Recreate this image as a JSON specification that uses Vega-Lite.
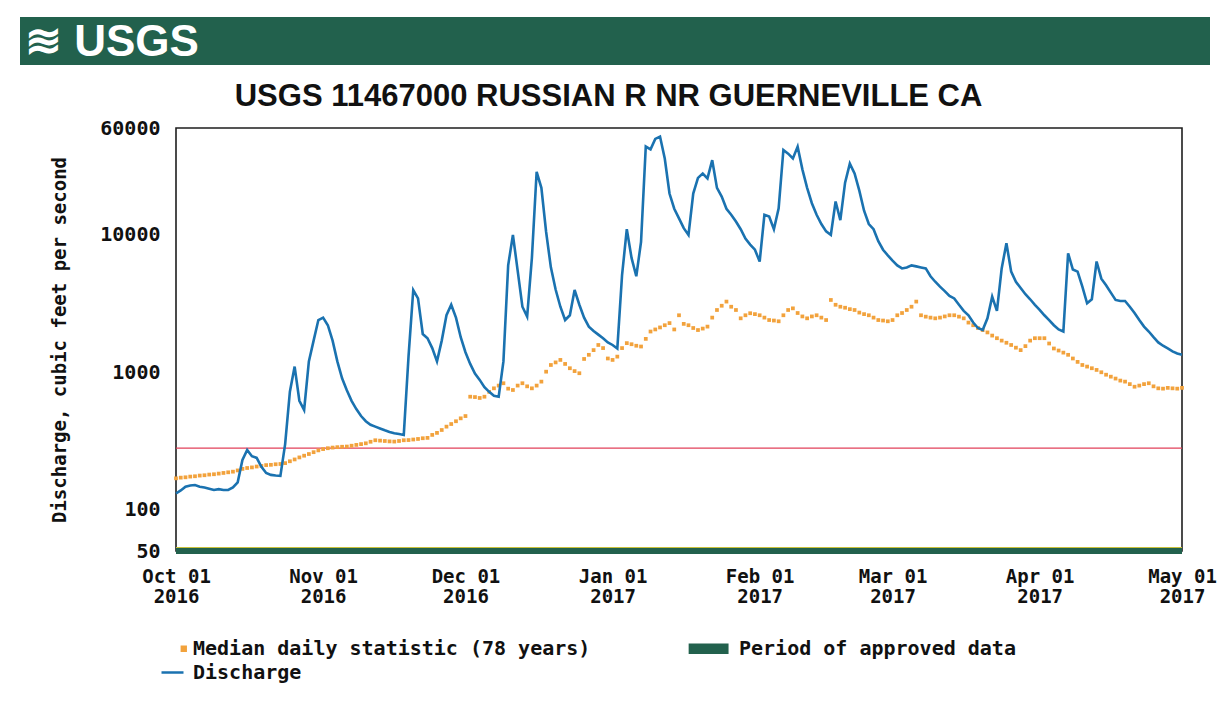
{
  "$schema": "https://vega.github.io/schema/vega-lite/v6.json",
  "background": "white",
  "padding": {"left": 20, "top": 17, "right": 0, "bottom": 8},
  "config": {"view": {"stroke": null}},
  "datasets": {
    "daily": [
      {"d":"2016-10-01","q":131,"m":169},{"d":"2016-10-02","q":138,"m":171},{"d":"2016-10-03","q":147,"m":172},{"d":"2016-10-04","q":150,"m":174},{"d":"2016-10-05","q":151,"m":175},{"d":"2016-10-06","q":147,"m":177},{"d":"2016-10-07","q":145,"m":178},{"d":"2016-10-08","q":142,"m":180},{"d":"2016-10-09","q":139,"m":181},{"d":"2016-10-10","q":141,"m":183},
      {"d":"2016-10-11","q":139,"m":185},{"d":"2016-10-12","q":139,"m":187},{"d":"2016-10-13","q":145,"m":189},{"d":"2016-10-14","q":158,"m":193},{"d":"2016-10-15","q":230,"m":198},{"d":"2016-10-16","q":272,"m":201},{"d":"2016-10-17","q":245,"m":203},{"d":"2016-10-18","q":238,"m":206},{"d":"2016-10-19","q":205,"m":208},{"d":"2016-10-20","q":185,"m":211},
      {"d":"2016-10-21","q":179,"m":212},{"d":"2016-10-22","q":177,"m":214},{"d":"2016-10-23","q":176,"m":215},{"d":"2016-10-24","q":300,"m":218},{"d":"2016-10-25","q":722,"m":225},{"d":"2016-10-26","q":1100,"m":232},{"d":"2016-10-27","q":620,"m":240},{"d":"2016-10-28","q":532,"m":247},{"d":"2016-10-29","q":1200,"m":254},{"d":"2016-10-30","q":1700,"m":262},
      {"d":"2016-10-31","q":2400,"m":270},{"d":"2016-11-01","q":2500,"m":276},{"d":"2016-11-02","q":2200,"m":280},{"d":"2016-11-03","q":1700,"m":283},{"d":"2016-11-04","q":1200,"m":285},{"d":"2016-11-05","q":904,"m":287},{"d":"2016-11-06","q":740,"m":288},{"d":"2016-11-07","q":620,"m":292},{"d":"2016-11-08","q":540,"m":296},{"d":"2016-11-09","q":480,"m":300},
      {"d":"2016-11-10","q":440,"m":304},{"d":"2016-11-11","q":415,"m":312},{"d":"2016-11-12","q":402,"m":320},{"d":"2016-11-13","q":390,"m":318},{"d":"2016-11-14","q":378,"m":316},{"d":"2016-11-15","q":368,"m":314},{"d":"2016-11-16","q":360,"m":313},{"d":"2016-11-17","q":355,"m":316},{"d":"2016-11-18","q":350,"m":320},{"d":"2016-11-19","q":1300,"m":321},
      {"d":"2016-11-20","q":3970,"m":324},{"d":"2016-11-21","q":3450,"m":327},{"d":"2016-11-22","q":1900,"m":331},{"d":"2016-11-23","q":1770,"m":333},{"d":"2016-11-24","q":1500,"m":350},{"d":"2016-11-25","q":1200,"m":362},{"d":"2016-11-26","q":1700,"m":380},{"d":"2016-11-27","q":2600,"m":402},{"d":"2016-11-28","q":3100,"m":420},{"d":"2016-11-29","q":2500,"m":440},
      {"d":"2016-11-30","q":1800,"m":462},{"d":"2016-12-01","q":1400,"m":480},{"d":"2016-12-02","q":1150,"m":664},{"d":"2016-12-03","q":980,"m":660},{"d":"2016-12-04","q":880,"m":650},{"d":"2016-12-05","q":780,"m":664},{"d":"2016-12-06","q":720,"m":720},{"d":"2016-12-07","q":675,"m":764},{"d":"2016-12-08","q":664,"m":800},{"d":"2016-12-09","q":1200,"m":832},
      {"d":"2016-12-10","q":6000,"m":760},{"d":"2016-12-11","q":10000,"m":743},{"d":"2016-12-12","q":5500,"m":800},{"d":"2016-12-13","q":3000,"m":832},{"d":"2016-12-14","q":2540,"m":790},{"d":"2016-12-15","q":6800,"m":764},{"d":"2016-12-16","q":28800,"m":800},{"d":"2016-12-17","q":22000,"m":855},{"d":"2016-12-18","q":10500,"m":1010},{"d":"2016-12-19","q":5800,"m":1130},
      {"d":"2016-12-20","q":4000,"m":1180},{"d":"2016-12-21","q":3000,"m":1230},{"d":"2016-12-22","q":2400,"m":1150},{"d":"2016-12-23","q":2600,"m":1070},{"d":"2016-12-24","q":3970,"m":1020},{"d":"2016-12-25","q":3100,"m":984},{"d":"2016-12-26","q":2500,"m":1250},{"d":"2016-12-27","q":2150,"m":1340},{"d":"2016-12-28","q":2000,"m":1450},{"d":"2016-12-29","q":1880,"m":1580},
      {"d":"2016-12-30","q":1770,"m":1500},{"d":"2016-12-31","q":1650,"m":1260},{"d":"2017-01-01","q":1580,"m":1230},{"d":"2017-01-02","q":1490,"m":1300},{"d":"2017-01-03","q":5100,"m":1500},{"d":"2017-01-04","q":11000,"m":1630},{"d":"2017-01-05","q":6800,"m":1600},{"d":"2017-01-06","q":5000,"m":1560},{"d":"2017-01-07","q":8900,"m":1540},{"d":"2017-01-08","q":44000,"m":1750},
      {"d":"2017-01-09","q":42000,"m":1980},{"d":"2017-01-10","q":50000,"m":2050},{"d":"2017-01-11","q":52000,"m":2120},{"d":"2017-01-12","q":36000,"m":2200},{"d":"2017-01-13","q":20000,"m":2280},{"d":"2017-01-14","q":15500,"m":2050},{"d":"2017-01-15","q":13200,"m":2600},{"d":"2017-01-16","q":11200,"m":2250},{"d":"2017-01-17","q":10000,"m":2200},{"d":"2017-01-18","q":20000,"m":2100},
      {"d":"2017-01-19","q":26000,"m":2030},{"d":"2017-01-20","q":28000,"m":2080},{"d":"2017-01-21","q":25800,"m":2150},{"d":"2017-01-22","q":35000,"m":2500},{"d":"2017-01-23","q":22000,"m":2840},{"d":"2017-01-24","q":19000,"m":3050},{"d":"2017-01-25","q":15500,"m":3270},{"d":"2017-01-26","q":14000,"m":3000},{"d":"2017-01-27","q":12500,"m":2840},{"d":"2017-01-28","q":11000,"m":2470},
      {"d":"2017-01-29","q":9400,"m":2600},{"d":"2017-01-30","q":8500,"m":2690},{"d":"2017-01-31","q":7800,"m":2650},{"d":"2017-02-01","q":6400,"m":2600},{"d":"2017-02-02","q":14000,"m":2500},{"d":"2017-02-03","q":13600,"m":2400},{"d":"2017-02-04","q":11000,"m":2380},{"d":"2017-02-05","q":15600,"m":2350},{"d":"2017-02-06","q":41500,"m":2600},{"d":"2017-02-07","q":39000,"m":2840},
      {"d":"2017-02-08","q":36000,"m":2920},{"d":"2017-02-09","q":43900,"m":2700},{"d":"2017-02-10","q":30000,"m":2550},{"d":"2017-02-11","q":22000,"m":2470},{"d":"2017-02-12","q":17000,"m":2550},{"d":"2017-02-13","q":14000,"m":2600},{"d":"2017-02-14","q":12000,"m":2500},{"d":"2017-02-15","q":10600,"m":2400},{"d":"2017-02-16","q":10000,"m":3360},{"d":"2017-02-17","q":17500,"m":3100},
      {"d":"2017-02-18","q":12800,"m":3000},{"d":"2017-02-19","q":24000,"m":2950},{"d":"2017-02-20","q":33000,"m":2880},{"d":"2017-02-21","q":28000,"m":2840},{"d":"2017-02-22","q":21000,"m":2720},{"d":"2017-02-23","q":15000,"m":2650},{"d":"2017-02-24","q":12000,"m":2600},{"d":"2017-02-25","q":11000,"m":2500},{"d":"2017-02-26","q":9000,"m":2400},{"d":"2017-02-27","q":7800,"m":2380},
      {"d":"2017-02-28","q":7100,"m":2350},{"d":"2017-03-01","q":6500,"m":2400},{"d":"2017-03-02","q":6000,"m":2600},{"d":"2017-03-03","q":5700,"m":2700},{"d":"2017-03-04","q":5800,"m":2840},{"d":"2017-03-05","q":6000,"m":3000},{"d":"2017-03-06","q":5900,"m":3270},{"d":"2017-03-07","q":5800,"m":2600},{"d":"2017-03-08","q":5700,"m":2540},{"d":"2017-03-09","q":5000,"m":2500},
      {"d":"2017-03-10","q":4560,"m":2470},{"d":"2017-03-11","q":4200,"m":2500},{"d":"2017-03-12","q":3900,"m":2550},{"d":"2017-03-13","q":3600,"m":2600},{"d":"2017-03-14","q":3450,"m":2600},{"d":"2017-03-15","q":3100,"m":2540},{"d":"2017-03-16","q":2800,"m":2470},{"d":"2017-03-17","q":2600,"m":2300},{"d":"2017-03-18","q":2300,"m":2200},{"d":"2017-03-19","q":2100,"m":2100},
      {"d":"2017-03-20","q":2030,"m":2030},{"d":"2017-03-21","q":2470,"m":1950},{"d":"2017-03-22","q":3550,"m":1850},{"d":"2017-03-23","q":2800,"m":1770},{"d":"2017-03-24","q":5700,"m":1700},{"d":"2017-03-25","q":8700,"m":1640},{"d":"2017-03-26","q":5400,"m":1580},{"d":"2017-03-27","q":4560,"m":1510},{"d":"2017-03-28","q":4100,"m":1450},{"d":"2017-03-29","q":3700,"m":1550},
      {"d":"2017-03-30","q":3400,"m":1700},{"d":"2017-03-31","q":3100,"m":1770},{"d":"2017-04-01","q":2850,"m":1770},{"d":"2017-04-02","q":2600,"m":1770},{"d":"2017-04-03","q":2400,"m":1620},{"d":"2017-04-04","q":2200,"m":1490},{"d":"2017-04-05","q":2050,"m":1440},{"d":"2017-04-06","q":1980,"m":1390},{"d":"2017-04-07","q":7350,"m":1340},{"d":"2017-04-08","q":5600,"m":1260},
      {"d":"2017-04-09","q":5400,"m":1190},{"d":"2017-04-10","q":4200,"m":1130},{"d":"2017-04-11","q":3180,"m":1100},{"d":"2017-04-12","q":3400,"m":1070},{"d":"2017-04-13","q":6400,"m":1040},{"d":"2017-04-14","q":4800,"m":1000},{"d":"2017-04-15","q":4300,"m":960},{"d":"2017-04-16","q":3800,"m":929},{"d":"2017-04-17","q":3360,"m":900},{"d":"2017-04-18","q":3300,"m":870},
      {"d":"2017-04-19","q":3300,"m":855},{"d":"2017-04-20","q":3000,"m":820},{"d":"2017-04-21","q":2700,"m":785},{"d":"2017-04-22","q":2400,"m":800},{"d":"2017-04-23","q":2150,"m":820},{"d":"2017-04-24","q":1980,"m":832},{"d":"2017-04-25","q":1800,"m":790},{"d":"2017-04-26","q":1650,"m":764},{"d":"2017-04-27","q":1560,"m":760},{"d":"2017-04-28","q":1490,"m":770},
      {"d":"2017-04-29","q":1420,"m":764},{"d":"2017-04-30","q":1370,"m":760},{"d":"2017-05-01","q":1340,"m":770}
    ],
    "period": [{"d":"2016-10-01","d2":"2017-05-01","q":50}],
    "reference": [{"d":"2016-10-01","d2":"2017-05-01","q":280}],
    "banner": [{"label": "≋ USGS"}],
    "none": []
  },
  "vconcat": [
    {
      "width": 1190,
      "height": 48,
      "view": {"fill": "#22614d", "stroke": null},
      "data": {"name": "banner"},
      "mark": {"type": "text", "align": "left", "baseline": "middle", "dx": -590, "dy": 2, "font": "Liberation Sans", "fontSize": 44, "fontWeight": "bold", "color": "white"},
      "encoding": {"text": {"field": "label", "type": "nominal"}}
    },
    {
      "hconcat": [
        {
          "width": 1,
          "height": 1,
          "data": {"name": "none"},
          "mark": {"type": "text"},
          "encoding": {"text": {"field": "label", "type": "nominal"}}
        },
        {
          "width": 1006,
          "height": 423,
          "view": {"stroke": "#1e1e1e", "strokeWidth": 1.6},
          "title": {"text": "USGS 11467000 RUSSIAN R NR GUERNEVILLE CA", "font": "Liberation Sans", "fontSize": 31, "fontWeight": "bold", "color": "#111111", "anchor": "middle", "frame": "bounds", "offset": 5, "dx": -25},
          "data": {"name": "daily"},
          "encoding": {
            "x": {
              "field": "d", "type": "temporal",
              "scale": {"type": "utc", "domain": [{"year": 2016, "month": 10, "date": 1, "utc": true}, {"year": 2017, "month": 5, "date": 1, "utc": true}]},
              "axis": {
                "title": null,
                "values": [{"year": 2016, "month": 10, "date": 1, "utc": true}, {"year": 2016, "month": 11, "date": 1, "utc": true}, {"year": 2016, "month": 12, "date": 1, "utc": true}, {"year": 2017, "month": 1, "date": 1, "utc": true}, {"year": 2017, "month": 2, "date": 1, "utc": true}, {"year": 2017, "month": 3, "date": 1, "utc": true}, {"year": 2017, "month": 4, "date": 1, "utc": true}, {"year": 2017, "month": 5, "date": 1, "utc": true}],
                "labelExpr": "[utcFormat(datum.value, '%b %d'), utcFormat(datum.value, '%Y')]",
                "labelFont": "DejaVu Sans Mono", "labelFontSize": 19, "labelFontWeight": "bold", "labelColor": "#111111",
                "labelPadding": 16, "labelLineHeight": 20, "ticks": false, "domain": false, "grid": false,
                "labelOverlap": false, "labelFlush": false, "labelBound": false
              }
            },
            "y": {
              "field": "q", "type": "quantitative",
              "scale": {"type": "log", "domain": [50, 60000], "nice": false},
              "axis": {
                "title": "Discharge, cubic feet per second",
                "values": [50, 100, 1000, 10000, 60000], "format": "d",
                "labelFont": "DejaVu Sans Mono", "labelFontSize": 20, "labelFontWeight": "bold", "labelColor": "#111111",
                "labelPadding": 16, "ticks": false, "domain": false, "grid": false, "labelOverlap": false,
                "titleFont": "DejaVu Sans Mono", "titleFontSize": 19, "titleFontWeight": "bold", "titleColor": "#111111",
                "titlePadding": 30
              }
            }
          },
          "layer": [
            {
              "data": {"name": "period"},
              "mark": {"type": "rule", "strokeWidth": 6, "strokeCap": "butt"},
              "encoding": {
                "x2": {"field": "d2"},
                "color": {
                  "datum": "Period of approved data", "type": "nominal",
                  "scale": {"domain": ["Median daily statistic (78 years)", "Period of approved data", "Discharge"], "range": ["#f2a23c", "#22614d", "#1a72b0"]},
                  "legend": {
                    "orient": "none", "legendX": 140, "legendY": 619, "direction": "horizontal", "columns": 2, "title": null,
                    "labelFont": "DejaVu Sans Mono", "labelFontSize": 20, "labelFontWeight": "bold", "labelColor": "#111111",
                    "labelLimit": 800, "labelOffset": 8, "columnPadding": 93, "rowPadding": 1,
                    "symbolSize": 484, "symbolStrokeWidth": 2.5, "symbolOpacity": 1,
                    "encode": {"symbols": {"update": {
                      "shape": {"signal": "datum.value === 'Discharge' ? 'stroke' : (datum.value === 'Period of approved data' ? 'M-2.6,-0.36H0.8V0.36H-2.6Z' : 'M0.85,-0.18H1.2V0.18H0.85Z')"},
                      "size": {"value": 484},
                      "fill": {"signal": "datum.value === 'Discharge' ? 'transparent' : (datum.value === 'Period of approved data' ? '#22614d' : '#f2a23c')"},
                      "stroke": {"signal": "datum.value === 'Discharge' ? '#1a72b0' : 'transparent'"},
                      "strokeWidth": {"value": 2.5},
                      "opacity": {"value": 1}
                    }}}
                  }
                }
              }
            },
            {
              "data": {"name": "period"},
              "mark": {"type": "rule", "strokeWidth": 1.2, "color": "#c8c03a", "yOffset": -3.5},
              "encoding": {"x2": {"field": "d2"}}
            },
            {
              "data": {"name": "reference"},
              "mark": {"type": "rule", "strokeWidth": 1.3, "color": "#e2405a"},
              "encoding": {"x2": {"field": "d2"}}
            },
            {
              "mark": {"type": "square", "size": 14, "opacity": 1, "filled": true},
              "encoding": {
                "y": {
                  "field": "m", "type": "quantitative",
                  "scale": {"type": "log", "domain": [50, 60000], "nice": false},
                  "axis": {
                    "title": "Discharge, cubic feet per second",
                    "values": [50, 100, 1000, 10000, 60000], "format": "d",
                    "labelFont": "DejaVu Sans Mono", "labelFontSize": 20, "labelFontWeight": "bold", "labelColor": "#111111",
                    "labelPadding": 16, "ticks": false, "domain": false, "grid": false, "labelOverlap": false,
                    "titleFont": "DejaVu Sans Mono", "titleFontSize": 19, "titleFontWeight": "bold", "titleColor": "#111111",
                    "titlePadding": 30
                  }
                },
                "color": {
                  "datum": "Median daily statistic (78 years)", "type": "nominal",
                  "scale": {"domain": ["Median daily statistic (78 years)", "Period of approved data", "Discharge"], "range": ["#f2a23c", "#22614d", "#1a72b0"]},
                  "legend": {
                    "orient": "none", "legendX": 140, "legendY": 619, "direction": "horizontal", "columns": 2, "title": null,
                    "labelFont": "DejaVu Sans Mono", "labelFontSize": 20, "labelFontWeight": "bold", "labelColor": "#111111",
                    "labelLimit": 800, "labelOffset": 8, "columnPadding": 93, "rowPadding": 1,
                    "symbolSize": 484, "symbolStrokeWidth": 2.5, "symbolOpacity": 1,
                    "encode": {"symbols": {"update": {
                      "shape": {"signal": "datum.value === 'Discharge' ? 'stroke' : (datum.value === 'Period of approved data' ? 'M-2.6,-0.36H0.8V0.36H-2.6Z' : 'M0.85,-0.18H1.2V0.18H0.85Z')"},
                      "size": {"value": 484},
                      "fill": {"signal": "datum.value === 'Discharge' ? 'transparent' : (datum.value === 'Period of approved data' ? '#22614d' : '#f2a23c')"},
                      "stroke": {"signal": "datum.value === 'Discharge' ? '#1a72b0' : 'transparent'"},
                      "strokeWidth": {"value": 2.5},
                      "opacity": {"value": 1}
                    }}}
                  }
                }
              }
            },
            {
              "mark": {"type": "line", "strokeWidth": 2.6, "interpolate": "linear"},
              "encoding": {
                "color": {
                  "datum": "Discharge", "type": "nominal",
                  "scale": {"domain": ["Median daily statistic (78 years)", "Period of approved data", "Discharge"], "range": ["#f2a23c", "#22614d", "#1a72b0"]},
                  "legend": {
                    "orient": "none", "legendX": 140, "legendY": 619, "direction": "horizontal", "columns": 2, "title": null,
                    "labelFont": "DejaVu Sans Mono", "labelFontSize": 20, "labelFontWeight": "bold", "labelColor": "#111111",
                    "labelLimit": 800, "labelOffset": 8, "columnPadding": 93, "rowPadding": 1,
                    "symbolSize": 484, "symbolStrokeWidth": 2.5, "symbolOpacity": 1,
                    "encode": {"symbols": {"update": {
                      "shape": {"signal": "datum.value === 'Discharge' ? 'stroke' : (datum.value === 'Period of approved data' ? 'M-2.6,-0.36H0.8V0.36H-2.6Z' : 'M0.85,-0.18H1.2V0.18H0.85Z')"},
                      "size": {"value": 484},
                      "fill": {"signal": "datum.value === 'Discharge' ? 'transparent' : (datum.value === 'Period of approved data' ? '#22614d' : '#f2a23c')"},
                      "stroke": {"signal": "datum.value === 'Discharge' ? '#1a72b0' : 'transparent'"},
                      "strokeWidth": {"value": 2.5},
                      "opacity": {"value": 1}
                    }}}
                  }
                }
              }
            }
          ]
        }
      ],
      "spacing": 28
    }
  ],
  "spacing": 15
}
